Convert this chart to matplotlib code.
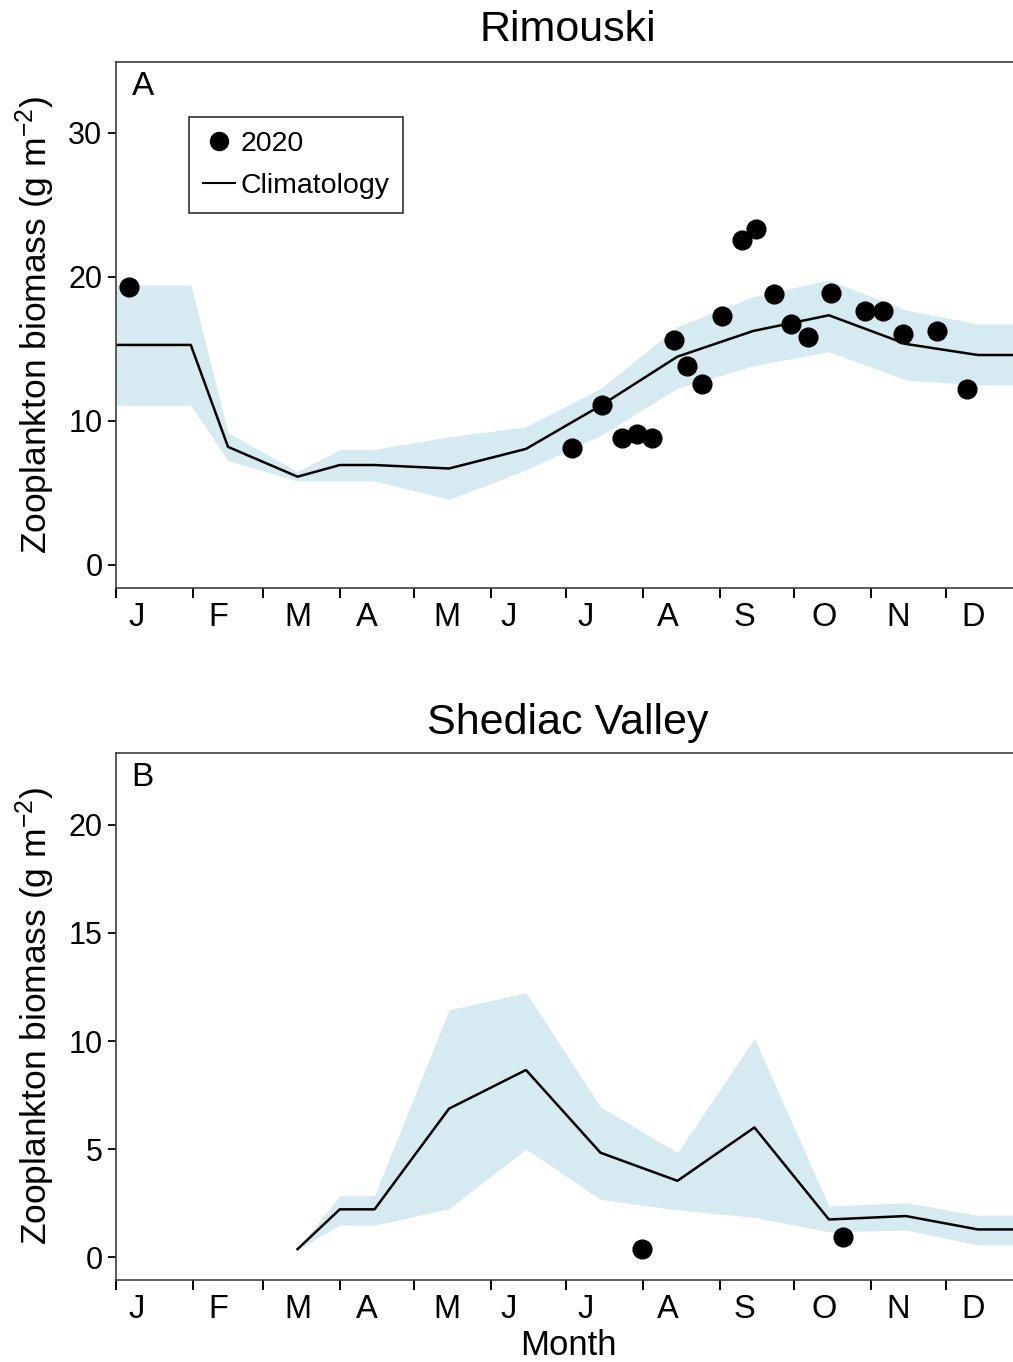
import matplotlib
matplotlib.use("Agg")
import matplotlib.pyplot as plt
from matplotlib.lines import Line2D

plt.rcParams['font.family'] = ['Liberation Sans', 'DejaVu Sans']
plt.rcParams['mathtext.fontset'] = 'custom'
plt.rcParams['mathtext.rm'] = 'Liberation Sans'
plt.rcParams['mathtext.it'] = 'Liberation Sans'
plt.rcParams['axes.unicode_minus'] = True

# ---- month axis ----
month_starts = [1, 32, 60, 91, 121, 152, 182, 213, 244, 274, 305, 335]
month_labels = ['J', 'F', 'M', 'A', 'M', 'J', 'J', 'A', 'S', 'O', 'N', 'D']
label_days = [9, 42, 74, 102, 134, 159, 190, 223, 254, 286, 316, 346]

# ---- Rimouski (panel A) ----
rim_clim_day = [1, 31, 46, 74, 91, 105, 135, 166, 196.5, 227, 257.5, 288, 319, 348, 365]
rim_clim_mean = [15.28, 15.28, 8.2, 6.13, 6.94, 6.94, 6.7, 8.06, 11.11, 14.47, 16.25, 17.34, 15.35, 14.58, 14.58]
rim_clim_upper = [19.45, 19.45, 9.19, 6.49, 8.03, 8.03, 8.9, 9.6, 12.3, 16.55, 18.63, 19.79, 17.7, 16.74, 16.74]
rim_clim_lower = [11.09, 11.09, 7.24, 5.83, 5.83, 5.83, 4.56, 6.6, 9.03, 12.27, 13.84, 14.81, 12.85, 12.5, 12.5]

rim_2020_day = [6.1, 184.6, 196.7, 204.5, 210.8, 216.9, 225.7, 230.7, 236.8, 244.8, 252.9,
                258.7, 265.8, 272.7, 279.7, 288.7, 302.6, 309.7, 317.8, 331.6, 343.6]
rim_2020_val = [19.28, 8.1, 11.11, 8.85, 9.07, 8.85, 15.63, 13.84, 12.57, 17.31, 22.55,
                23.36, 18.82, 16.72, 15.81, 18.87, 17.66, 17.62, 16.04, 16.23, 12.24]

# ---- Shediac Valley (panel B) ----
shv_clim_day = [74, 91, 105, 135, 166, 196, 227, 258, 288, 319, 348, 365]
shv_clim_mean = [0.37, 2.21, 2.21, 6.87, 8.66, 4.83, 3.53, 6.0, 1.74, 1.90, 1.28, 1.28]
shv_clim_upper = [0.40, 2.84, 2.84, 11.44, 12.24, 6.96, 4.83, 10.12, 2.36, 2.51, 1.94, 1.94]
shv_clim_lower = [0.34, 1.48, 1.48, 2.24, 5.0, 2.67, 2.18, 1.84, 1.17, 1.25, 0.56, 0.56]

shv_2020_day = [212.7, 293.7]
shv_2020_val = [0.37, 0.93]

band_color = '#d6eaf1'
spine_color = '#404040'
W, H = 1013, 1362
fig = plt.figure(figsize=(W / 100, H / 100), dpi=100)

left = 116.3 / W
width = 364 * 2.483 / W


def style_axes(ax, yticks, ylim):
    ax.set_xlim(1, 365)
    ax.set_ylim(*ylim)
    for s in ax.spines.values():
        s.set_color(spine_color)
        s.set_linewidth(1.2)
    ax.set_yticks(yticks)
    ax.set_yticklabels([str(t) for t in yticks])
    ax.set_xticks(month_starts)
    ax.set_xticklabels([])
    ax.set_xticks(label_days, minor=True)
    ax.set_xticklabels(month_labels, minor=True)
    ax.tick_params(axis='x', which='major', direction='out', length=7, width=1.4,
                   color='black')
    ax.tick_params(axis='x', which='minor', length=0, pad=10, labelsize=23.5)
    ax.tick_params(axis='y', direction='out', length=6, width=1.3, color='black',
                   labelsize=22, pad=4)
    ax.set_ylabel(r'Zooplankton biomass (g m$^{-2}$)', fontsize=25.5, labelpad=8)


# Panel A
axA = fig.add_axes([left, 1 - 588 / H, width, 526 / H])
axA.fill_between(rim_clim_day, rim_clim_lower, rim_clim_upper, color=band_color,
                 linewidth=0, zorder=1)
axA.plot(rim_clim_day, rim_clim_mean, color='black', lw=1.8, zorder=2)
axA.plot(rim_2020_day, rim_2020_val, 'o', color='black', ms=13.5, zorder=3)
style_axes(axA, [0, 10, 20, 30], (-1.6, 34.93))
axA.set_title('Rimouski', fontsize=31, pad=15)
axA.text(0.017, 0.982, 'A', transform=axA.transAxes, fontsize=24, va='top', ha='left')

handles = [Line2D([], [], marker='o', ls='none', color='black', ms=13),
           Line2D([], [], color='black', lw=1.5)]
leg = axA.legend(handles, ['2020', 'Climatology'], loc='upper left',
                 bbox_to_anchor=(0.0804, 0.8954), borderaxespad=0, fontsize=20.5,
                 frameon=True, fancybox=False, handlelength=1.1, handletextpad=0.2,
                 borderpad=0.5, labelspacing=0.55)
leg.get_frame().set_edgecolor('black')
leg.get_frame().set_linewidth(1.2)

# Panel B
axB = fig.add_axes([left, 1 - 1280 / H, width, 527 / H])
axB.fill_between(shv_clim_day, shv_clim_lower, shv_clim_upper, color=band_color,
                 linewidth=0, zorder=1)
axB.plot(shv_clim_day, shv_clim_mean, color='black', lw=1.8, zorder=2)
axB.plot(shv_2020_day, shv_2020_val, 'o', color='black', ms=13.5, zorder=3)
style_axes(axB, [0, 5, 10, 15, 20], (-1.06, 23.33))
axB.set_title('Shediac Valley', fontsize=31, pad=14)
axB.text(0.017, 0.982, 'B', transform=axB.transAxes, fontsize=24, va='top', ha='left')

# x-axis title placed by its baseline just above the lower figure edge
fig.text(left + 0.5 * (903.8 / W), 1 - 1355 / H, 'Month', fontsize=25,
         ha='center', va='baseline')

fig.savefig('out.png', dpi=100)
